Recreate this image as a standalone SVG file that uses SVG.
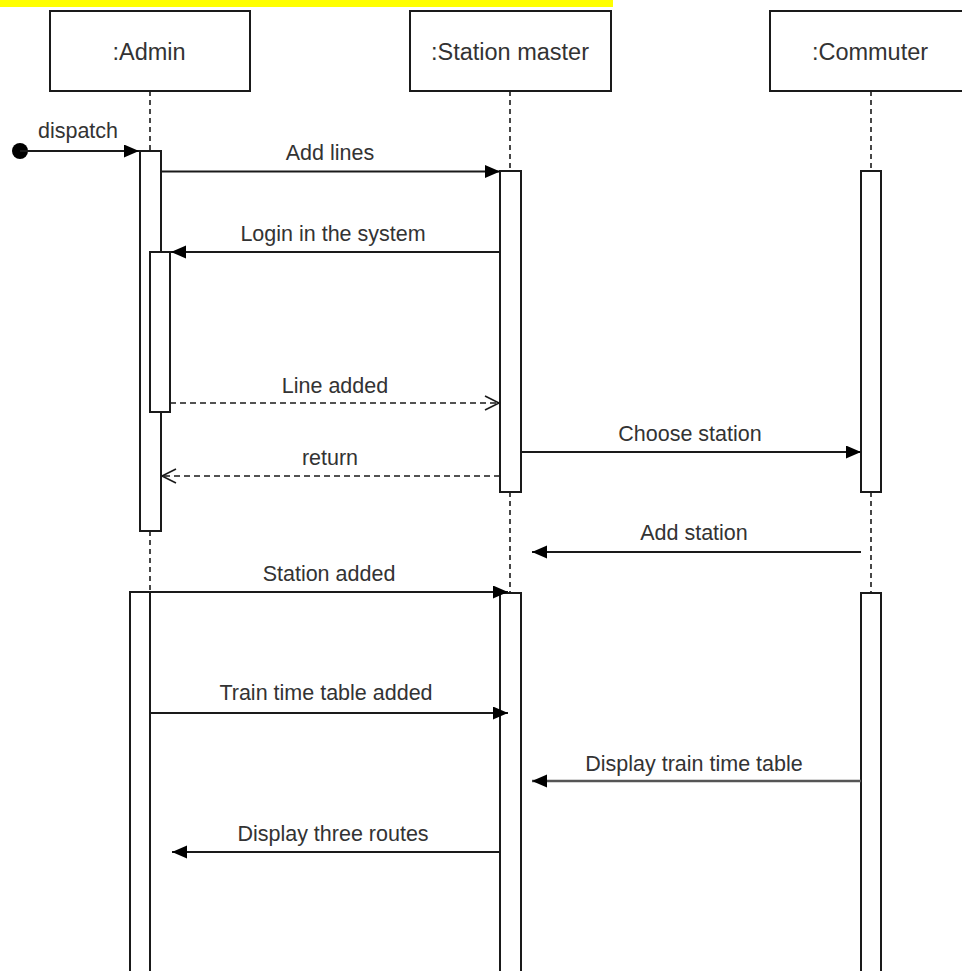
<svg xmlns="http://www.w3.org/2000/svg" width="962" height="971" viewBox="0 0 962 971">
<style>
.box{fill:#fff;stroke:#1a1a1a;stroke-width:2}
.act{fill:#fff;stroke:#1a1a1a;stroke-width:2}
.life{stroke:#1a1a1a;stroke-width:1.6;stroke-dasharray:5 4;fill:none}
.msg{stroke:#1a1a1a;stroke-width:2;fill:none}
.ret{stroke:#1a1a1a;stroke-width:1.6;stroke-dasharray:6 4;fill:none}
.lbl{font-family:"Liberation Sans",Arial,sans-serif;font-size:21.5px;fill:#333;text-anchor:middle}
.hdr{font-family:"Liberation Sans",Arial,sans-serif;font-size:23.5px;fill:#333;text-anchor:middle}
</style>
<defs>
<marker id="fill" markerUnits="userSpaceOnUse" markerWidth="16" markerHeight="14" refX="15" refY="6.5" orient="auto">
<path d="M0,0 L15,6.5 L0,13 z" fill="#000"/>
</marker>
<marker id="open" markerUnits="userSpaceOnUse" markerWidth="18" markerHeight="18" refX="15" refY="8" orient="auto">
<path d="M1,1 L15,8 L1,15" fill="none" stroke="#1a1a1a" stroke-width="1.6"/>
</marker>
</defs>
<rect width="962" height="971" fill="#fff"/>
<rect x="0" y="0" width="613" height="7" fill="#ffff00"/>

<g id="lifelines">
<line class="life" x1="150" y1="91" x2="150" y2="151"/>
<line class="life" x1="150" y1="531" x2="150" y2="592"/>
<line class="life" x1="510" y1="91" x2="510" y2="171"/>
<line class="life" x1="510" y1="492" x2="510" y2="593"/>
<line class="life" x1="871" y1="91" x2="871" y2="171"/>
<line class="life" x1="871" y1="492" x2="871" y2="593"/>
</g>

<g id="admin">
<rect class="box" x="50" y="11" width="200" height="80"/>
<text class="hdr" x="149" y="60">:Admin</text>
<rect class="act" x="140" y="151" width="21" height="380"/>
<rect class="act" x="150" y="252" width="20" height="160"/>
<rect class="act" x="130" y="592" width="20" height="385"/>
</g>

<g id="station-master">
<rect class="box" x="410" y="11" width="201" height="80"/>
<text class="hdr" x="510" y="60">:Station master</text>
<rect class="act" x="500" y="171" width="21" height="321"/>
<rect class="act" x="500" y="593" width="21" height="384"/>
</g>

<g id="commuter">
<rect class="box" x="770" y="11" width="202" height="80"/>
<text class="hdr" x="870" y="60">:Commuter</text>
<rect class="act" x="861" y="171" width="20" height="321"/>
<rect class="act" x="861" y="593" width="20" height="384"/>
</g>

<g id="connectors">
<circle cx="20" cy="151" r="8" fill="#000"/>
<line class="msg" x1="20" y1="151" x2="139" y2="151" marker-end="url(#fill)"/>
<text class="lbl" x="78" y="138">dispatch</text>

<line class="msg" x1="161" y1="171.5" x2="500" y2="171.5" marker-end="url(#fill)"/>
<text class="lbl" x="330" y="160">Add lines</text>

<line class="msg" x1="500" y1="252" x2="171" y2="252" marker-end="url(#fill)"/>
<text class="lbl" x="333" y="241">Login in the system</text>

<line class="ret" x1="170" y1="403" x2="499" y2="403" marker-end="url(#open)"/>
<text class="lbl" x="335" y="393">Line added</text>

<line class="msg" x1="521" y1="452" x2="861" y2="452" marker-end="url(#fill)"/>
<text class="lbl" x="690" y="441">Choose station</text>

<line class="ret" x1="500" y1="476" x2="162" y2="476" marker-end="url(#open)"/>
<text class="lbl" x="330" y="465">return</text>

<line class="msg" x1="861" y1="552" x2="532" y2="552" marker-end="url(#fill)"/>
<text class="lbl" x="694" y="540">Add station</text>

<line class="msg" x1="150" y1="592" x2="508" y2="592" marker-end="url(#fill)"/>
<text class="lbl" x="329" y="581">Station added</text>

<line class="msg" x1="150" y1="713" x2="508" y2="713" marker-end="url(#fill)"/>
<text class="lbl" x="326" y="700">Train time table added</text>

<line x1="861" y1="781" x2="532" y2="781" stroke="#555" stroke-width="2.6" marker-end="url(#fill)"/>
<text class="lbl" x="694" y="771">Display train time table</text>

<line class="msg" x1="500" y1="852" x2="172" y2="852" marker-end="url(#fill)"/>
<text class="lbl" x="333" y="841">Display three routes</text>
</g>
</svg>
